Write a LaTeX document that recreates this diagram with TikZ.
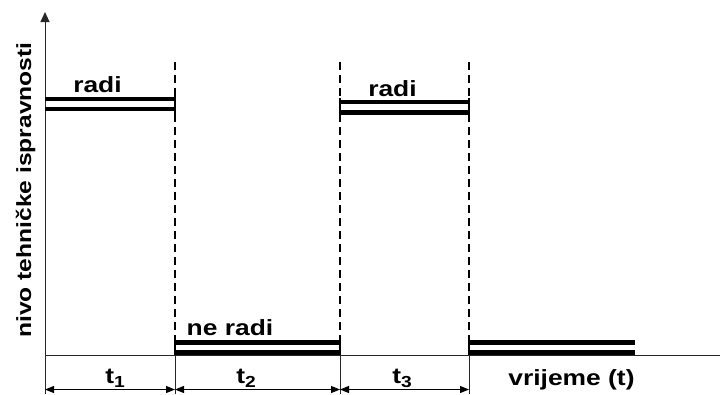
\documentclass[tikz,border=0pt]{standalone}
\usepackage{fontspec}
\setmainfont{Liberation Sans}
\usetikzlibrary{arrows.meta}
\newcommand{\wide}[1]{\scalebox{1.2}[1]{#1}}
\newcommand{\tsub}[2]{\wide{#1\raisebox{-4pt}{\fontsize{16}{18}\selectfont #2}}}
\begin{document}
\begin{tikzpicture}[x=1pt,y=-1pt,
  axis/.style={line width=1pt, draw=black!85},
  bar/.style={line width=4.6pt, line cap=butt},
  guide/.style={line width=1.8pt, dash pattern=on 8pt off 5pt},
  endtick/.style={line width=1.8pt},
  dim/.style={line width=0.9pt, {Triangle[length=9pt,width=7pt]}-{Triangle[length=9pt,width=7pt]}},
  lbl/.style={font=\fontsize{22}{26}\selectfont\bfseries, inner sep=0pt, anchor=base},
]
\useasboundingbox (0,0) rectangle (720,394);
% axes
\coordinate (t0) at (45,355);
\coordinate (t1) at (175,355);
\coordinate (t2) at (340,355);
\coordinate (t3) at (469,355);
\coordinate (xend) at (720,355);
\coordinate (ytop) at (45,12);
\coordinate (ybot) at (45,394);
\draw[axis] (t0) -- (xend);
\draw[axis,-{Triangle[length=10pt,width=9pt]}] (ybot) -- (ytop);
% ticks below axis
\coordinate (b1) at (175,394);
\coordinate (b2) at (340,394);
\coordinate (b3) at (469,394);
\draw[axis] (t1) -- (b1);
\draw[axis] (t2) -- (b2);
\draw[axis] (t3) -- (b3);
% dashed guides
\coordinate (g1) at (175,62);
\coordinate (g2) at (340,62);
\coordinate (g3) at (469,62);
\draw[guide] (g1) -- (t1);
\draw[guide] (g2) -- (t2);
\draw[guide] (g3) -- (t3);
% bars: segment 1 (radi)
\draw[bar] (45,99) -- (175,99);
\draw[bar] (45,109) -- (175,109);
\draw[endtick] (175,95) -- (175,116);
% segment 2 (ne radi)
\draw[bar] (175,342.5) -- (340,342.5);
\draw[bar] (175,352.5) -- (340,352.5);
\draw[endtick] (175,337) -- (175,355);
\draw[endtick] (340,337) -- (340,355);
% segment 3 (radi)
\draw[bar] (340,102) -- (469,102);
\draw[bar] (340,112.5) -- (469,112.5);
\draw[endtick] (340,98) -- (340,117);
\draw[endtick] (469,98) -- (469,117);
% segment 4
\draw[bar] (469,342.5) -- (635,342.5);
\draw[bar] (469,352.5) -- (635,352.5);
\draw[endtick] (469,337) -- (469,355);
% dimension arrows
\coordinate (d0) at (45,389.5);
\coordinate (d1) at (175,389.5);
\coordinate (d2) at (340,389.5);
\coordinate (d3) at (469,389.5);
\draw[dim] (d0) -- (d1);
\draw[dim] (d1) -- (d2);
\draw[dim] (d2) -- (d3);
% labels
\node[lbl] (radiA) at (97.5,92) {\wide{radi}};
\node[lbl] (radiB) at (392.5,96) {\wide{radi}};
\node[lbl] (neradi) at (230,335) {\wide{ne radi}};
\node[lbl] (vrijeme) at (571.5,385) {\wide{vrijeme (t)}};
\node[lbl] (lt1) at (115,383) {\tsub{t}{1}};
\node[lbl] (lt2) at (246,383) {\tsub{t}{2}};
\node[lbl] (lt3) at (402,383) {\tsub{t}{3}};
\node[lbl, font=\fontsize{20.5}{24}\selectfont\bfseries, rotate=90] (ylab) at (31,190) {\wide{nivo tehničke ispravnosti}};
\end{tikzpicture}
\end{document}
